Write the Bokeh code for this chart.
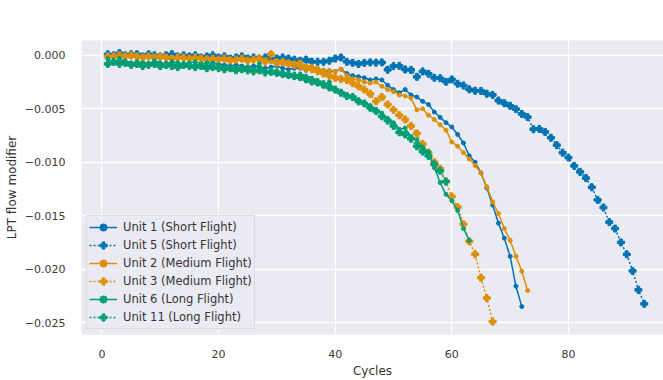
from bokeh.plotting import figure
from bokeh.models import Range1d, CustomJSTickFormatter, FixedTicker, ColumnDataSource
from bokeh.embed import file_html
from bokeh.resources import INLINE

unit1 = [-0.00085, -0.0006, -0.0007, -0.0006, -0.0007, -0.0008, -0.0007, -0.0008, -0.0007, -0.0011,
         -0.0009, -0.0008, -0.0009, -0.0010, -0.0010, -0.0009, -0.0010, -0.0011, -0.0007, -0.0008,
         -0.0009, -0.0010, -0.0009, -0.0010, -0.0011, -0.0010, -0.0011, -0.0012, -0.0011, -0.0010,
         -0.0012, -0.0013, -0.0012, -0.0012, -0.0014, -0.0013, -0.0014, -0.0014, -0.0015, -0.0015,
         -0.0013, -0.0017, -0.0019, -0.0020, -0.0021, -0.0023, -0.0022, -0.0023, -0.0028, -0.0032,
         -0.0035, -0.0032, -0.0037, -0.0039, -0.0043, -0.0046, -0.0053, -0.0058, -0.0063, -0.0067,
         -0.0074, -0.0082, -0.0094, -0.0100, -0.0110, -0.0124, -0.0140, -0.0157, -0.0171, -0.0188,
         -0.0216, -0.0235]

unit5 = [0.0001, 0.0000, 0.0002, 0.0000, 0.0001, 0.0001, -0.0001, 0.0001, 0.0000, -0.0001,
         0.0000, 0.0001, -0.0001, 0.0000, -0.0001, 0.0000, -0.0002, -0.0001, 0.0000, -0.0002,
         -0.0001, -0.0003, -0.0002, -0.0001, -0.0003, -0.0002, -0.0003, -0.0002, -0.0003, -0.0003,
         -0.0002, -0.0003, -0.0004, -0.0005, -0.0004, -0.0006, -0.0006, -0.0006, -0.0005, -0.0003,
         -0.0002, -0.0006, -0.0007, -0.0008, -0.0007, -0.00066, -0.00068, -0.00066, -0.00135, -0.0010,
         -0.00098, -0.00132, -0.00136, -0.00201, -0.0015, -0.00172, -0.0021, -0.00214, -0.00247, -0.00225,
         -0.00265, -0.00282, -0.00318, -0.00331, -0.00333, -0.00358, -0.0037, -0.00423, -0.00447, -0.00472,
         -0.00503, -0.00548, -0.00577, -0.00691, -0.00688, -0.00716, -0.00771, -0.0084, -0.0091, -0.00956,
         -0.01034, -0.0109, -0.01148, -0.01234, -0.01352, -0.01423, -0.0156, -0.0162, -0.0175, -0.01861,
         -0.02016, -0.02194, -0.02324]

unit2 = [-0.0002, 0.0000, -0.0001, 0.0000, -0.0001, -0.0002, -0.0001, 0.0000, -0.0001, -0.0002,
         -0.0001, -0.0002, -0.0001, -0.0003, -0.0002, -0.0002, -0.0003, -0.0002, -0.0003, -0.0003,
         -0.0004, -0.0003, -0.0004, -0.0003, -0.0005, -0.0004, -0.0005, -0.0004, -0.0006, -0.0005,
         -0.0008, -0.0006, -0.0007, -0.0006, -0.0010, -0.0010, -0.0012, -0.0014, -0.0014, -0.0015,
         -0.0013, -0.0019, -0.0022, -0.0023, -0.0025, -0.0026, -0.0025, -0.0029, -0.0032, -0.0034,
         -0.0037, -0.0038, -0.0040, -0.0051, -0.0050, -0.0056, -0.0060, -0.0065, -0.0070, -0.0081,
         -0.0085, -0.0091, -0.0097, -0.0103, -0.0110, -0.0123, -0.0137, -0.0148, -0.0162, -0.0173,
         -0.0188, -0.0202, -0.0220]

unit3 = [-0.0001, -0.0001, 0.0000, -0.0001, 0.0000, -0.0001, -0.0002, -0.0001, -0.0002, -0.0001,
         -0.0002, -0.0003, -0.0002, -0.0002, -0.0003, -0.0002, -0.0003, -0.0004, -0.0003, -0.0004,
         -0.0003, -0.0005, -0.0004, -0.0003, -0.0005, -0.0004, -0.0003, -0.0006, 0.0001, -0.0007,
         -0.0006, -0.0008, -0.0009, -0.0010, -0.0012, -0.0013, -0.0015, -0.0017, -0.0019, -0.0021,
         -0.0022, -0.0023, -0.0026, -0.0029, -0.0032, -0.0036, -0.0043, -0.0039, -0.0046, -0.0051,
         -0.0056, -0.0060, -0.0066, -0.0073, -0.0083, -0.0091, -0.0100, -0.0106, -0.0118, -0.0132,
         -0.0142, -0.0158, -0.0174, -0.0186, -0.0208, -0.0227, -0.0249]

unit6 = [-0.0003, -0.0007, -0.0003, -0.0006, -0.0008, -0.0006, -0.0007, -0.0008, -0.0005, -0.0007,
         -0.0008, -0.0006, -0.0007, -0.0008, -0.0007, -0.0006, -0.0008, -0.0007, -0.0007, -0.0009,
         -0.0011, -0.0012, -0.0011, -0.0012, -0.0011, -0.0013, -0.0008, -0.0015, -0.0017, -0.0018,
         -0.0019, -0.0020, -0.0021, -0.0022, -0.0024, -0.0026, -0.0027, -0.0029, -0.0025, -0.0033,
         -0.0034, -0.0037, -0.0040, -0.0042, -0.0045, -0.0047, -0.0051, -0.0054, -0.0059, -0.0063,
         -0.0069, -0.0068, -0.0076, -0.0079, -0.0086, -0.0090, -0.0105, -0.0119, -0.0130, -0.0136,
         -0.0145, -0.0162, -0.0173]

unit11 = [-0.0008, -0.0006, -0.0008, -0.0007, -0.0009, -0.0008, -0.0010, -0.0009, -0.0008, -0.0010,
          -0.0009, -0.0010, -0.0011, -0.0009, -0.0010, -0.0011, -0.0010, -0.0012, -0.0011, -0.0012,
          -0.0013, -0.0012, -0.0014, -0.0013, -0.0014, -0.0015, -0.0014, -0.0016, -0.0015, -0.0016,
          -0.0017, -0.0018, -0.0019, -0.0019, -0.0021, -0.0023, -0.0025, -0.0027, -0.0030, -0.0032,
          -0.0035, -0.0038, -0.0039, -0.0043, -0.0045, -0.0049, -0.0052, -0.0057, -0.0061, -0.0066,
          -0.0072, -0.0074, -0.0078, -0.0085, -0.0090, -0.0094, -0.0102, -0.0108, -0.0118]

labels = ["Unit 1 (Short Flight)", "Unit 5 (Short Flight)", "Unit 2 (Medium Flight)",
          "Unit 3 (Medium Flight)", "Unit 6 (Long Flight)", "Unit 11 (Long Flight)"]
x_ticks = [0, 20, 40, 60, 80]
y_ticks = [0.0, -0.005, -0.010, -0.015, -0.020, -0.025]

BLUE, ORANGE, GREEN = "#0173B2", "#DE8F05", "#029E73"
series = [
    (unit1, labels[0], BLUE, "solid"),
    (unit5, labels[1], BLUE, "dotted"),
    (unit2, labels[2], ORANGE, "solid"),
    (unit3, labels[3], ORANGE, "dotted"),
    (unit6, labels[4], GREEN, "solid"),
    (unit11, labels[5], GREEN, "dotted"),
]

p = figure(width=663, height=380, output_backend="svg", toolbar_location=None,
           x_range=Range1d(-3.5, 96.3), y_range=Range1d(-0.02611, 0.00139),
           min_border_left=81, min_border_right=0, min_border_top=40, min_border_bottom=43)
p.background_fill_color = "#EAEAF2"
p.border_fill_color = "white"
p.outline_line_color = None

for vals, lab, col, style in series:
    src = ColumnDataSource(dict(x=list(range(1, len(vals) + 1)), y=vals))
    if style == "solid":
        p.line("x", "y", source=src, color=col, line_width=1.5, legend_label=lab)
        p.scatter("x", "y", source=src, marker="circle", size=4, color=col, legend_label=lab)
    else:
        p.line("x", "y", source=src, color=col, line_width=1.5, line_dash="2 2", legend_label=lab)
        p.scatter("x", "y", source=src, marker="plus", size=7, color=col, legend_label=lab)

for ax in (p.xaxis[0], p.yaxis[0]):
    ax.axis_line_color = None
    ax.major_tick_line_color = None
    ax.minor_tick_line_color = None
    ax.major_label_text_font = "DejaVu Sans"
    ax.major_label_text_font_size = "11px"
    ax.major_label_text_color = "#3a3a3a"
    ax.axis_label_text_font = "DejaVu Sans"
    ax.axis_label_text_font_size = "12px"
    ax.axis_label_text_font_style = "normal"
    ax.axis_label_text_color = "#333333"

p.xaxis.major_label_standoff = 9
p.yaxis.major_label_standoff = 10
p.xaxis.ticker = FixedTicker(ticks=x_ticks)
p.yaxis.ticker = FixedTicker(ticks=y_ticks)
p.yaxis.formatter = CustomJSTickFormatter(code="""
    var s = Math.abs(tick).toFixed(3);
    return (tick < -1e-12 ? "\u2212" : "") + s;
""")
p.xaxis.axis_label = "Cycles"
p.yaxis.axis_label = "LPT flow modifier"
p.xaxis.axis_label_standoff = 3
p.yaxis.axis_label_standoff = 3

p.grid.grid_line_color = "white"
p.grid.grid_line_width = 1.3
p.xgrid.ticker = FixedTicker(ticks=x_ticks)
p.ygrid.ticker = FixedTicker(ticks=y_ticks)

lg = p.legend[0]
lg.location = "bottom_left"
lg.margin = 5
lg.padding = 2
lg.spacing = 0
lg.label_height = 18
lg.glyph_height = 18
lg.glyph_width = 28
lg.label_standoff = 6
lg.label_text_font = "DejaVu Sans"
lg.label_text_font_size = "11.5px"
lg.label_text_color = "#333333"
lg.background_fill_color = "#EAEAF2"
lg.background_fill_alpha = 0.8
lg.border_line_color = "#cccccc"
lg.border_line_width = 1

open("out.html", "w").write(file_html(p, INLINE))
